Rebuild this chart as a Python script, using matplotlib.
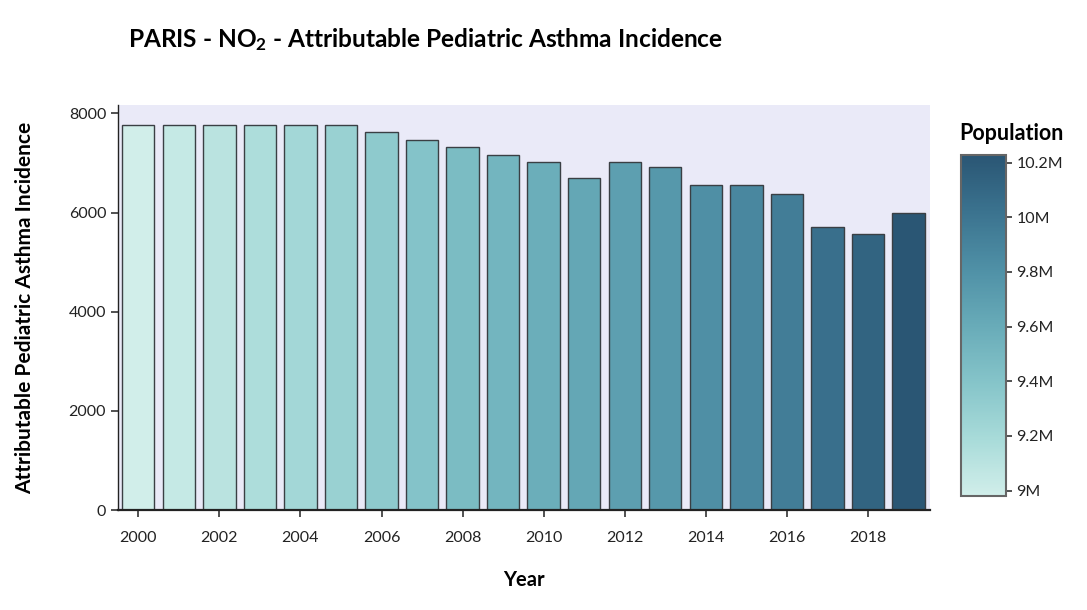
import matplotlib
matplotlib.use("Agg")
import matplotlib.pyplot as plt
import numpy as np
from matplotlib.colors import LinearSegmentedColormap, Normalize
from matplotlib.ticker import FuncFormatter
import matplotlib.cm as cm

plt.rcParams['font.family'] = ['Lato', 'DejaVu Sans']
plt.rcParams['mathtext.fontset'] = 'custom'
plt.rcParams['mathtext.rm'] = 'Lato'
plt.rcParams['mathtext.bf'] = 'Lato:bold'
plt.rcParams['mathtext.default'] = 'regular'

years = list(range(2000, 2020))
incidence = [7757, 7757, 7757, 7757, 7757, 7757, 7617, 7455, 7314, 7153,
             7012, 6690, 7012, 6911, 6549, 6549, 6367, 5702, 5561, 5984]
population = [8.99e6, 9.05e6, 9.11e6, 9.17e6, 9.23e6, 9.29e6, 9.35e6, 9.41e6,
              9.47e6, 9.53e6, 9.59e6, 9.64e6, 9.70e6, 9.76e6, 9.82e6, 9.88e6,
              9.95e6, 10.05e6, 10.13e6, 10.23e6]
cbar_ticks = [9.0e6, 9.2e6, 9.4e6, 9.6e6, 9.8e6, 10.0e6, 10.2e6]

teal = ['#d1eeea', '#a8dbd9', '#85c4c9', '#68abb8', '#4f90a6', '#3b738f', '#2a5674']
cmap = LinearSegmentedColormap.from_list('teal', teal)
norm = Normalize(vmin=min(population), vmax=max(population))

fig = plt.figure(figsize=(10.87, 6.10), dpi=100)
ax = fig.add_axes([118/1087, 1-510/610, (930-118)/1087, (510-105)/610])
ax.set_facecolor('#eaeaf8')

colors = [cmap(norm(p)) for p in population]
ax.bar(years, incidence, width=0.8, color=colors, edgecolor='#3a3f44', linewidth=1.0, zorder=2)

ax.set_xlim(1999.5, 2019.53)
ax.set_ylim(0, 8170)
ax.set_xticks(list(range(2000, 2019, 2)))
ax.set_yticks([0, 2000, 4000, 6000, 8000])
for s in ['top', 'right']:
    ax.spines[s].set_visible(False)
ax.spines['left'].set_color('#222222')
ax.spines['bottom'].set_color('#222222')
ax.spines['bottom'].set_linewidth(1.6)
ax.spines['left'].set_linewidth(1.0)
ax.tick_params(axis='both', direction='out', length=5, width=1.2, color='#333333',
               labelsize=11.5, labelcolor='#222222')
ax.tick_params(axis='x', pad=10)

ax.set_xlabel('Year', fontsize=14.5, fontweight='bold', labelpad=18)
ax.set_ylabel('Attributable Pediatric Asthma Incidence', fontsize=15, fontweight='bold', labelpad=24)

fig.text(128/1087, 1-40/610, r'PARIS - NO$_2$ - Attributable Pediatric Asthma Incidence',
         fontsize=17.6, fontweight='bold', va='center', ha='left')

cax = fig.add_axes([961/1087, 1-496/610, 45/1087, (496-155)/610])
sm = cm.ScalarMappable(norm=Normalize(vmin=8.98e6, vmax=10.228e6), cmap=cmap)
cb = fig.colorbar(sm, cax=cax)
cb.set_ticks(cbar_ticks)
cb.ax.yaxis.set_major_formatter(FuncFormatter(lambda v, p: ('%g' % (v/1e6)) + 'M'))
cb.outline.set_edgecolor('#666666')
cb.outline.set_linewidth(1.5)
cb.ax.tick_params(length=4, width=1.2, color='#333333', labelsize=11.5, labelcolor='#222222')
fig.text(1011/1087, 1-133/610, 'Population', fontsize=15.5, fontweight='bold', ha='center', va='center')

fig.savefig('out.png', dpi=100)
